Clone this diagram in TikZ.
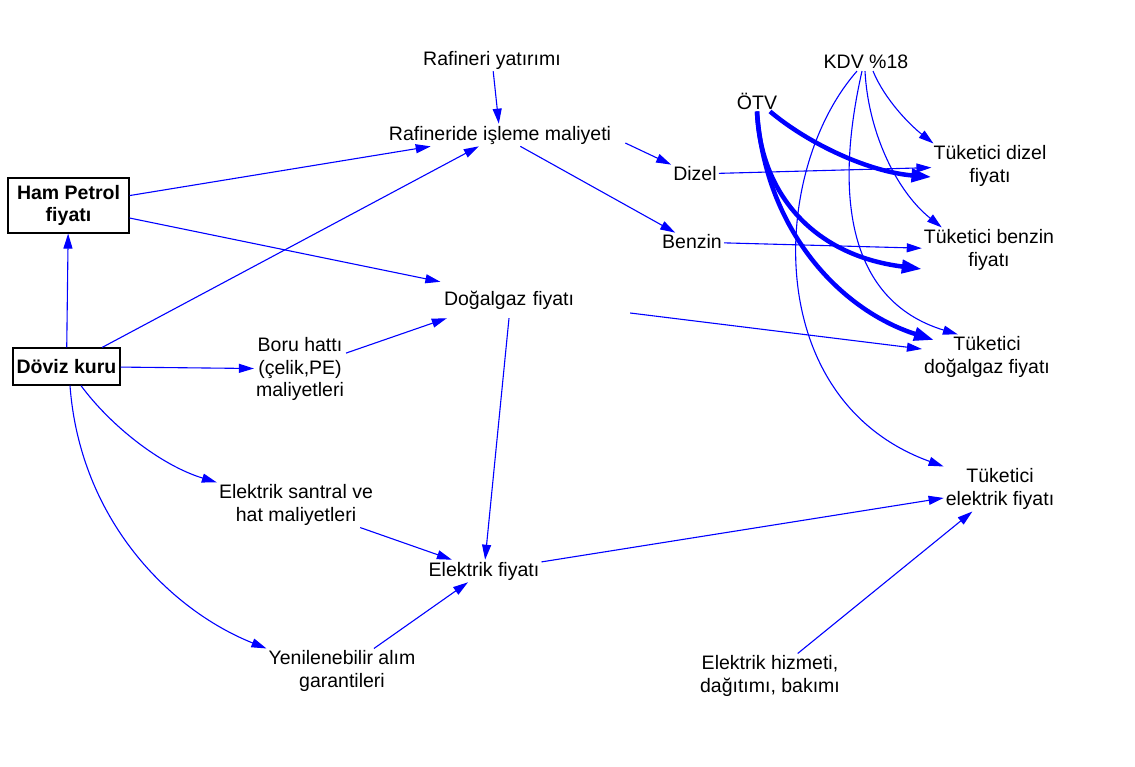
\documentclass[tikz,border=0pt]{standalone}
\usepackage{fontspec}
\setmainfont{Liberation Sans}
\usetikzlibrary{arrows.meta,calc}
\begin{document}
\begin{tikzpicture}[x=1pt,y=-1pt,
  lbl/.style={font=\fontsize{19.5}{22.5}\selectfont, align=center, inner sep=2pt, text=black},
  boxn/.style={draw=black, line width=1.2pt, align=center, inner sep=2pt, font=\fontsize{19.5}{22.5}\selectfont\bfseries},
  arr/.style={draw=blue, line width=1.1pt, -{Triangle[length=15pt,width=9pt]}},
  tarr/.style={draw=blue, line width=4.5pt, -{Triangle[length=20pt,width=13pt]}}]
\useasboundingbox (0,0) rectangle (1135,766);
\fill[white] (0,0) rectangle (1135,766);

% nodes
\node[lbl] (ryat) at (492,60) {Rafineri yatırımı};
\node[lbl] (raf) at (500,135) {Rafineride işleme maliyeti};
\node[boxn, minimum width=121pt, minimum height=55pt] (ham) at (68.5,205.5) {Ham Petrol\\fiyatı};
\node[boxn, minimum width=107pt, minimum height=37pt] (dov) at (66.5,366.5) {Döviz kuru};
\node[lbl] (dizel) at (695,174) {Dizel};
\node[lbl] (benzin) at (692,242) {Benzin};
\node[lbl, inner sep=0pt, text width=202pt, minimum height=36pt, align=left] (dog) at (529,300) {\hspace*{16pt}Doğalgaz fiyatı};
\node[lbl] (boru) at (300,369) {Boru hattı\\(çelik,PE)\\maliyetleri};
\node[lbl] (santral) at (296,505) {Elektrik santral ve\\hat maliyetleri};
\node[lbl] (efiy) at (484,571) {Elektrik fiyatı};
\node[lbl] (yen) at (342,671) {Yenilenebilir alım\\garantileri};
\node[lbl] (hizmet) at (770,676) {Elektrik hizmeti,\\dağıtımı, bakımı};
\node[lbl] (kdv) at (866,62) {KDV \%18};
\node[lbl] (otv) at (757,101) {ÖTV};
\node[lbl] (tdiz) at (990,166) {Tüketici dizel\\fiyatı};
\node[lbl] (tben) at (989,250) {Tüketici benzin\\fiyatı};
\node[lbl] (tdog) at (987,357) {Tüketici\\doğalgaz fiyatı};
\node[lbl] (tel) at (1000,489) {Tüketici\\elektrik fiyatı};

% thick ÖTV arrows
\draw[tarr] ([xshift=13pt]otv.south) .. controls (810,145) and (870,172) .. ([yshift=-11pt]tdiz.west);
\draw[tarr] (otv.south) .. controls (760,190) and (810,255) .. ([yshift=-19pt]tben.west);
\draw[tarr] (otv.south) .. controls (765,230) and (840,310) .. ([xshift=12pt,yshift=17pt]tdog.west);

% straight arrows
\draw[arr] (ryat) -- (raf);
\draw[arr] (ham) -- (raf);
\draw[arr] (dov) -- (raf);
\draw[arr] (ham) -- (dog);
\draw[arr] (dov) -- (ham);
\draw[arr] (dov) -- (boru);
\draw[arr] (boru) -- ([xshift=19pt]dog.south west);
\draw[arr] ([xshift=12pt,yshift=-8pt]raf.east) -- (dizel.north west);
\draw[arr] (raf) -- (benzin);
\draw[arr] (dizel) -- (tdiz);
\draw[arr] (benzin) -- (tben);
\draw[arr] ([yshift=-13pt]dog.east) -- (tdog);
\draw[arr] ([xshift=-20pt]dog.south) -- (efiy);
\draw[arr] (santral) -- (efiy);
\draw[arr] (yen) -- (efiy);
\draw[arr] (efiy) -- (tel);
\draw[arr] (hizmet) -- (tel);

% curved arrows from Döviz kuru
\draw[arr] ([xshift=14.5pt]dov.south) .. controls (110,425) and (160,465) .. (santral.north west);
\draw[arr] ([xshift=3.5pt]dov.south) .. controls (80,520) and (170,610) .. (yen.north west);

% KDV arrows
\draw[arr] ([xshift=7pt]kdv.south) .. controls (885,100) and (910,125) .. ([xshift=2pt]tdiz.north west);
\draw[arr] ([xshift=-1pt]kdv.south) .. controls (868,130) and (895,190) .. ([xshift=20pt]tben.north west);
\draw[arr] ([xshift=-4pt]kdv.south) .. controls (835,190) and (845,300) .. ([xshift=36pt]tdog.north west);
\draw[arr] ([xshift=-9pt]kdv.south) .. controls (770,170) and (760,400) .. (tel.north west);
\end{tikzpicture}
\end{document}
